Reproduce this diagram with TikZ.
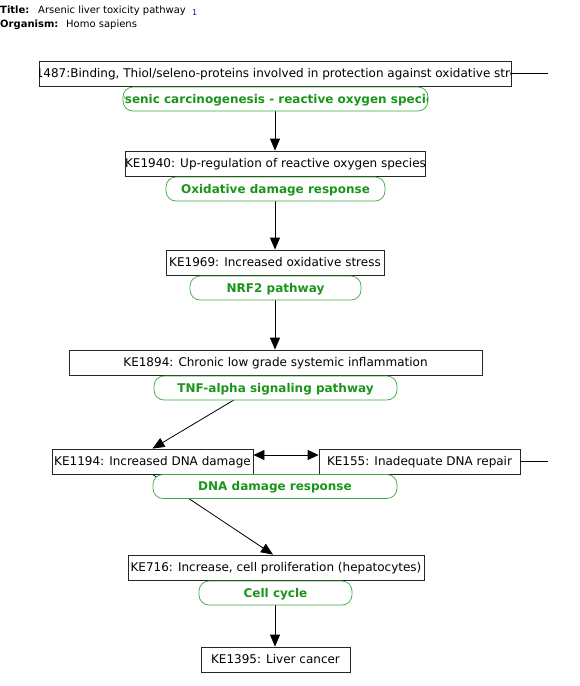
\documentclass[tikz,border=0pt]{standalone}
\usepackage{fontspec}
\setmainfont{DejaVu Sans}
\usetikzlibrary{arrows.meta,backgrounds}
\definecolor{pwgreen}{RGB}{25,150,25}
\definecolor{pwstroke}{RGB}{60,170,60}
\definecolor{refblue}{RGB}{20,20,160}
\tikzset{
  capc/.style={text height=8.7pt, text depth=0pt},
  kebox/.style={draw=black!85, fill=white, line width=0.8pt, inner sep=0pt, capc,
    minimum height=25pt, font=\fontsize{12}{14}\selectfont},
  pwbox/.style={draw=pwstroke, fill=white, line width=0.7pt, rounded corners=10pt,
    inner sep=0pt, capc, minimum height=24pt, text=pwgreen, font=\fontsize{12}{14}\selectfont\bfseries},
  ketext/.style={inner sep=0pt, capc, font=\fontsize{12}{14}\selectfont},
  pwtext/.style={inner sep=0pt, capc, text=pwgreen, font=\fontsize{12}{14}\selectfont\bfseries},
  hdr/.style={anchor=base west, inner sep=0pt, font=\fontsize{10}{12}\selectfont},
  flow/.style={line width=0.8pt, -{Triangle[length=12pt,width=10pt]}},
  both/.style={line width=0.8pt, {Triangle[length=11pt,width=10pt]}-{Triangle[length=11pt,width=10pt]}},
  plain/.style={line width=0.8pt}
}
\begin{document}
\begin{tikzpicture}[x=1pt,y=-1pt]
\useasboundingbox (0,0) rectangle (580,686);
% header
\node[hdr, font=\fontsize{10}{12}\selectfont\bfseries] (tl) at (0,13) {Title:};
\node[hdr] (tt) at (38,13) {Arsenic liver toxicity pathway};
\node[hdr, text=refblue, font=\fontsize{8}{9}\selectfont] (tr) at (192,15) {1};
\node[hdr, font=\fontsize{10}{12}\selectfont\bfseries] (ol) at (0,27) {Organism:};
\node[hdr] (ot) at (66,27) {Homo sapiens};

% key events
\node[kebox, minimum width=472pt] (k1487) at (275,73.5) {};
\begin{scope}
\clip (39.5,61) rectangle (510.5,86);
\node[ketext] (k1487t) at (275,73.5) {KE1487:Binding, Thiol/seleno-proteins involved in protection against oxidative stress};
\end{scope}
\node[kebox, minimum width=297pt] (k1940) at (275.5,163.5) {KE1940: Up-regulation of reactive oxygen species};
\node[kebox, minimum width=218pt] (k1969) at (275,262.5) {KE1969: Increased oxidative stress};
\node[kebox, minimum width=413pt] (k1894) at (275.5,362.5) {KE1894: Chronic low grade systemic inflammation};
\node[kebox, minimum width=201pt] (k1194) at (152.5,461.5) {KE1194: Increased DNA damage};
\node[kebox, minimum width=201pt] (k155) at (419.5,461.5) {KE155: Inadequate DNA repair};
\node[kebox, minimum width=296pt] (k716) at (276,567.5) {KE716: Increase, cell proliferation (hepatocytes)};
\node[kebox, minimum width=149pt] (k1395) at (275.5,659.5) {KE1395: Liver cancer};

% pathway labels
\node[pwbox, minimum width=305pt] (p1) at (275.5,99) {};
\begin{scope}
\clip (124,87.5) rectangle (427,110.5);
\node[pwtext] (p1t) at (275.5,99) {Arsenic carcinogenesis - reactive oxygen species};
\end{scope}
\node[pwbox, minimum width=219pt] (p2) at (275.5,189) {Oxidative damage response};
\node[pwbox, minimum width=171pt] (p3) at (275.5,288) {NRF2 pathway};
\node[pwbox, minimum width=243pt] (p4) at (275.5,388) {TNF-alpha signaling pathway};
\node[pwbox, minimum width=244pt] (p5) at (275,486.5) {DNA damage response};
\node[pwbox, minimum width=153pt] (p6) at (275.5,593) {Cell cycle};

\coordinate (e1) at (548,73.5);
\coordinate (e2) at (548,461.5);

\begin{pgfonlayer}{background}
\draw[flow] (p1.south -| 275,0) -- (k1940.north -| 275,0);
\draw[flow] (k1940.south -| 275,0) -- (k1969.north -| 275,0);
\draw[flow] (k1969.south -| 275,0) -- (k1894.north -| 275,0);
\draw[flow] (k1894.south -| 275,0) -- (k1194.north);
\draw[flow] (k1194.south) -- (k716.north -| 273,0);
\draw[flow] (k716.south -| 275,0) -- (k1395.north -| 275,0);
\end{pgfonlayer}
\draw[plain] (k1487.east) -- (e1);
\draw[plain] (k155.east) -- (e2);
\draw[both] ([yshift=6.5pt]k1194.east) -- ([yshift=6.5pt]k155.west);
\end{tikzpicture}
\end{document}
